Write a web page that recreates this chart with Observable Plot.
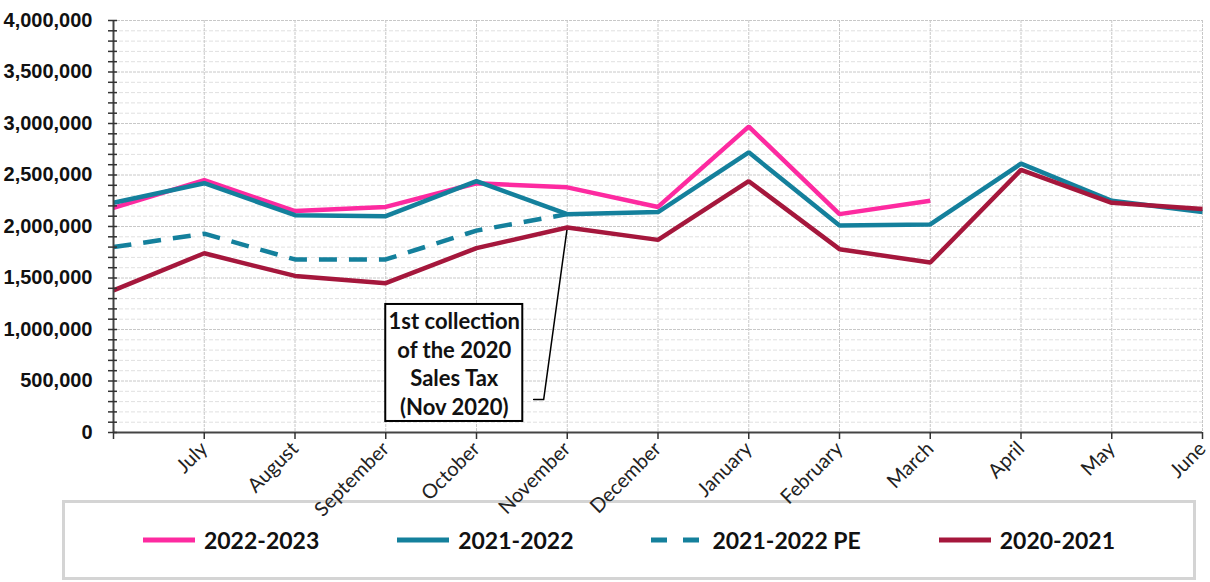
<!DOCTYPE html>
<html><head><meta charset="utf-8">
<script src="https://cdn.jsdelivr.net/npm/d3@7"></script>
<script src="https://cdn.jsdelivr.net/npm/@observablehq/plot@0.6"></script>
<style>
body{margin:0;background:#fff;}
#chart{position:relative;z-index:2;width:1210px;}
#chart svg{background:transparent !important;overflow:visible;}
.legend{position:relative;z-index:1;margin-top:-25px;margin-left:62px;width:1128px;height:74px;border:3px solid #d4d4d4;background:#fff;display:flex;justify-content:space-evenly;align-items:center;}
.item{display:flex;align-items:center;font-family:Lato,"Liberation Sans",sans-serif;font-weight:bold;font-size:23px;color:#111;}
.item svg{margin-right:9px;}
</style></head><body>
<div id="chart"></div>
<div class="legend" id="legend"></div>
<script>
const months = ["", "July", "August", "September", "October", "November", "December", "January", "February", "March", "April", "May", "June"];
const seriesNames = ["2022-2023", "2021-2022", "2021-2022 PE", "2020-2021"];
const seriesColors = ["#fd2aa0", "#14809c", "#14809c", "#a5173c"];
const seriesDash = [null, null, "18,12", null];
const fy2223 = [2180000, 2450000, 2150000, 2190000, 2420000, 2380000, 2190000, 2970000, 2120000, 2250000, null, null, null];
const fy2122 = [2230000, 2420000, 2110000, 2100000, 2440000, 2120000, 2140000, 2720000, 2010000, 2020000, 2610000, 2250000, 2140000];
const fy2122pe = [1800000, 1930000, 1680000, 1680000, 1960000, 2120000, null, null, null, null, null, null, null];
const fy2021 = [1380000, 1740000, 1520000, 1450000, 1790000, 1990000, 1870000, 2440000, 1780000, 1650000, 2550000, 2230000, 2170000];
const yMajorTicks = [0, 500000, 1000000, 1500000, 2000000, 2500000, 3000000, 3500000, 4000000];
const annotationText = "1st collection\nof the 2020\nSales Tax\n(Nov 2020)";
const annotationBox = {x1: 3.0, x2: 4.51, y1: 107000, y2: 1243000};
const annotationLeader = [{x: 4.63, y: 320000}, {x: 4.74, y: 320000}, {x: 5.0, y: 1990000}];

const allSeries = [fy2223, fy2122, fy2122pe, fy2021];
const rows = [];
allSeries.forEach((vals, s) => vals.forEach((v, i) => rows.push({s, i, v})));

const minorTicks = d3.range(0, 4000001, 100000).filter(v => v % 500000 !== 0);
const idx = d3.range(0, 13);

const lineMarks = allSeries.map((vals, s) => Plot.line(rows.filter(r => r.s === s), {
  x: "i", y: "v", stroke: seriesColors[s], strokeWidth: 4.5,
  strokeDasharray: seriesDash[s] || undefined, strokeLinejoin: "miter", strokeLinecap: "butt",
  defined: d => d.v != null
}));

const chart = Plot.plot({
  width: 1210, height: 525,
  marginLeft: 113, marginRight: 8, marginTop: 20, marginBottom: 93,
  x: {domain: [0, 12], axis: null},
  y: {domain: [0, 4000000], axis: null},
  marks: [
    Plot.gridY(minorTicks, {stroke: "#e0e0e0", strokeOpacity: 1, strokeDasharray: "4,2"}),
    Plot.gridY(yMajorTicks, {stroke: "#c8c8c8", strokeOpacity: 1, strokeDasharray: "3,1"}),
    Plot.gridX(idx.slice(1), {stroke: "#c8c8c8", strokeOpacity: 1, strokeDasharray: "3,1"}),
    Plot.rect([annotationBox], {x1: "x1", x2: "x2", y1: "y1", y2: "y2", fill: "white", stroke: "black", strokeWidth: 2}),
    Plot.line(annotationLeader, {x: "x", y: "y", stroke: "black", strokeWidth: 1.5}),
    ...lineMarks,
    Plot.text([annotationText], {x: (annotationBox.x1 + annotationBox.x2) / 2, y: (annotationBox.y1 + annotationBox.y2) / 2, text: d => d, fontSize: 22, fontWeight: "bold", fontFamily: "Lato", lineHeight: 1.3, fill: "#111"}),
    Plot.ruleY([0], {stroke: "#444", strokeWidth: 2}),
    Plot.ruleX([0], {stroke: "#444", strokeWidth: 2}),
    Plot.axisX({ticks: idx, tickFormat: i => months[i], tickRotate: -45, tickSize: 7, tickPadding: 6, fontSize: 20, fontFamily: "Lato", color: "#222", stroke: "#333", strokeWidth: 1.5}),
    Plot.axisY({ticks: yMajorTicks, tickSize: 0, tickPadding: 21, tickFormat: d3.format(","), fontSize: 20, fontWeight: "bold", fontFamily: "Liberation Sans", color: "#111"}),
    Plot.axisY({ticks: d3.range(0, 4000001, 100000), tickSize: 9, dx: 4, tickFormat: () => "", stroke: "#333", strokeWidth: 1.5})
  ]
});
document.getElementById("chart").appendChild(chart);

const legend = document.getElementById("legend");
seriesNames.forEach((name, s) => {
  const item = document.createElement("div");
  item.className = "item";
  const dash = seriesDash[s] ? 'stroke-dasharray="16,16"' : '';
  item.innerHTML = `<svg width="52" height="8"><line x1="0" y1="4" x2="52" y2="4" stroke="${seriesColors[s]}" stroke-width="5" ${dash}/></svg><span>${name}</span>`;
  legend.appendChild(item);
});
</script>
</body></html>
